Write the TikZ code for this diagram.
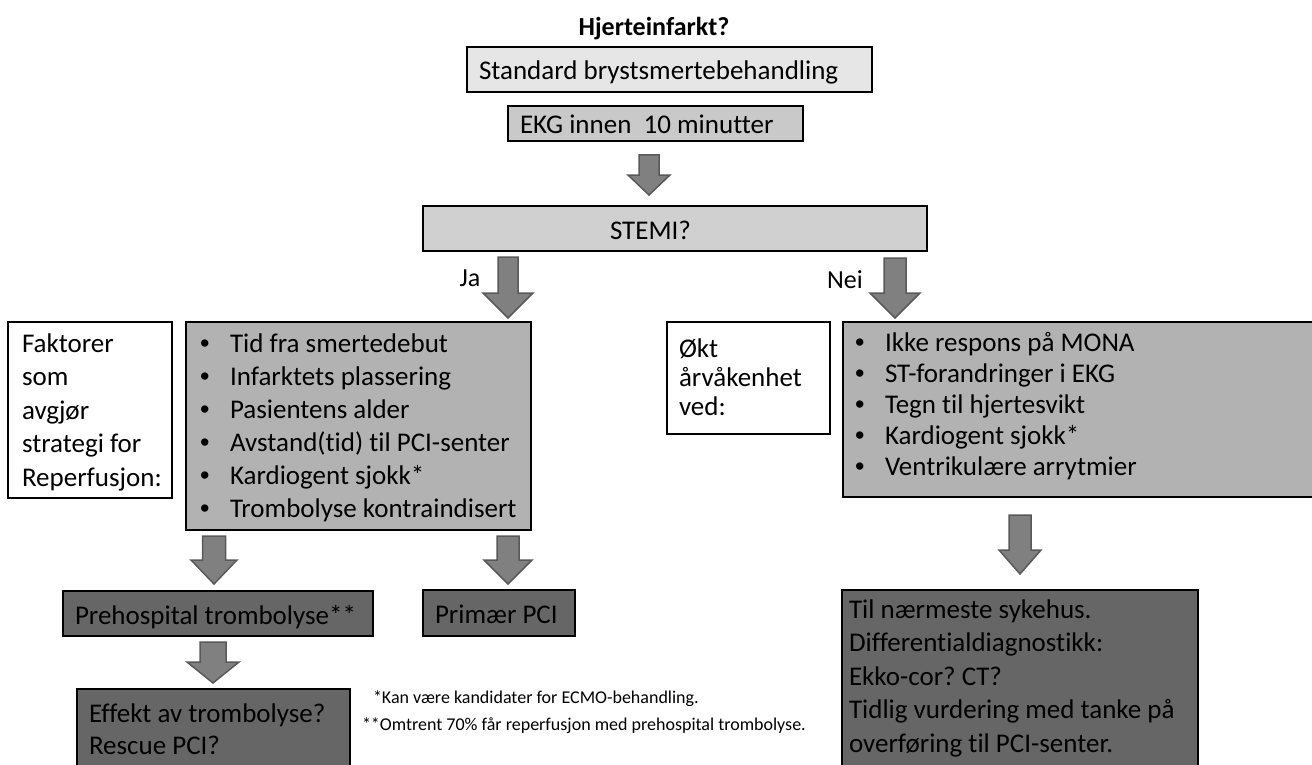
\documentclass[tikz,border=0pt]{standalone}
\usepackage{fontspec}
\setmainfont{Carlito}[Ligatures=NoCommon]
\newfontfamily\bulfont{Liberation Sans}
\definecolor{fillStd}{HTML}{E6E6E6}
\definecolor{fillEkg}{HTML}{C9C9C9}
\definecolor{fillStemi}{HTML}{D0D0D0}
\definecolor{fillList}{HTML}{B2B2B2}
\definecolor{fillDark}{HTML}{666666}
\definecolor{arrowFill}{HTML}{808080}
\definecolor{arrowLine}{HTML}{595959}
\tikzset{
  box/.style={draw=black, line width=1.8pt, anchor=north west, inner sep=0pt, outer sep=0pt},
  txt/.style={inner sep=0pt, outer sep=0pt, anchor=base west, font=\fontsize{27}{33}\selectfont},
  blk/.style={fill=arrowFill, draw=arrowLine, line width=1.5pt, line join=miter},
}
\newcommand\blkarrow[6]{%
  \draw[blk] ({#1-#4},#2) -- ({#1+#4},#2) -- ({#1+#4},{#3-#6}) -- ({#1+#5},{#3-#6})
    -- (#1,#3) -- ({#1-#5},{#3-#6}) -- ({#1-#4},{#3-#6}) -- cycle;}
\newcommand\mylines[1]{\begin{tabular}[t]{@{}l@{}}#1\end{tabular}}
\newcommand\bul{\makebox[30pt][l]{\bulfont •}}
\frenchspacing
\begin{document}
\frenchspacing
\begin{tikzpicture}[x=1pt,y=-1pt]
\useasboundingbox (0,0) rectangle (1312,765);
\clip (0,0) rectangle (1312,765);

% title
\node[txt, anchor=base, font=\bfseries\fontsize{26}{30}\selectfont] (title) at (654,36) {Hjerteinfarkt?};

% top boxes
\node[box, fill=fillStd, minimum width=405pt, minimum height=45pt] (std) at (467,47) {};
\node[txt] (stdT) at (479,80) {Standard brystsmertebehandling};

\node[box, fill=fillEkg, minimum width=295pt, minimum height=35pt] (ekg) at (508,106) {};
\node[txt] (ekgT) at (520,134) {EKG innen~ 10 minutter};

\blkarrow{649}{155}{195}{10}{21}{20}

\node[box, fill=fillStemi, minimum width=504pt, minimum height=45pt] (stemi) at (423,206) {};
\node[txt] (stemiT) at (610,239) {STEMI?};

% Ja / Nei
\node[txt, anchor=base, font=\fontsize{26}{30}\selectfont] (ja) at (470,286) {Ja};
\blkarrow{508}{257}{318}{10}{25}{25}
\node[txt, anchor=base, font=\fontsize{26}{30}\selectfont] (nei) at (845,288) {Nei};
\blkarrow{895}{258}{318}{11}{25}{25}

% left side
\node[box, fill=white, minimum width=164pt, minimum height=176pt] (fakt) at (8,322) {};
\node[txt, font=\fontsize{27}{33.5}\selectfont] (faktT) at (22,352)
  {\mylines{Faktorer\\som\\avgjør\\strategi for\\Reperfusjon:}};

\node[box, fill=fillList, minimum width=345pt, minimum height=208pt] (listL) at (186,322) {};
\node[txt] (listLT) at (200,352)
  {\mylines{\bul Tid fra smertedebut\\\bul Infarktets plassering\\\bul Pasientens alder\\
   \bul Avstand(tid) til PCI-senter\\\bul Kardiogent sjokk*\\\bul Trombolyse kontraindisert}};

% right side
\node[box, fill=white, minimum width=163pt, minimum height=112pt] (okt) at (667,322) {};
\node[txt, font=\fontsize{27}{29}\selectfont] (oktT) at (679,357)
  {\mylines{Økt\\årvåkenhet\\ved:}};

\node[box, fill=fillList, minimum width=480pt, minimum height=175pt] (listR) at (843,322) {};
\node[txt, font=\fontsize{27}{31}\selectfont] (listRT) at (855,351)
  {\mylines{\bul Ikke respons på MONA\\\bul ST-forandringer i EKG\\\bul Tegn til hjertesvikt\\
   \bul Kardiogent sjokk*\\\bul Ventrikulære arrytmier}};

% lower left
\blkarrow{214}{536}{584}{11.5}{23}{24}
\blkarrow{508}{536}{584}{11}{24}{24}

\node[box, fill=fillDark, minimum width=310pt, minimum height=45pt] (preh) at (63,591) {};
\node[txt] (prehT) at (75,624) {Prehospital trombolyse**};

\node[box, fill=fillDark, minimum width=152pt, minimum height=46pt] (prim) at (423,590) {};
\node[txt] (primT) at (435,623) {Primær PCI};

\blkarrow{213}{642}{683}{13}{26}{21}

\node[box, fill=fillDark, minimum width=273pt, minimum height=100pt] (eff) at (77,689) {};
\node[txt, font=\fontsize{27}{32}\selectfont] (effT) at (89,722)
  {\mylines{Effekt av trombolyse?\\Rescue PCI?}};

% footnotes
\node[txt, font=\fontsize{18}{22}\selectfont] (fn1) at (373,703) {*Kan være kandidater for ECMO-behandling.};
\node[txt, font=\fontsize{18}{22}\selectfont] (fn2) at (362,730) {**Omtrent 70\% får reperfusjon med prehospital trombolyse.};

% lower right
\blkarrow{1020}{515}{574}{11}{21}{24}
\node[box, fill=fillDark, minimum width=356pt, minimum height=200pt] (rbox) at (842,590) {};
\node[txt, font=\fontsize{27}{33.5}\selectfont] (rboxT) at (849,618)
  {\mylines{Til nærmeste sykehus.\\Differentialdiagnostikk:\\Ekko-cor? CT?\\
   Tidlig vurdering med tanke på\\overføring til PCI-senter.}};
\end{tikzpicture}
\end{document}
